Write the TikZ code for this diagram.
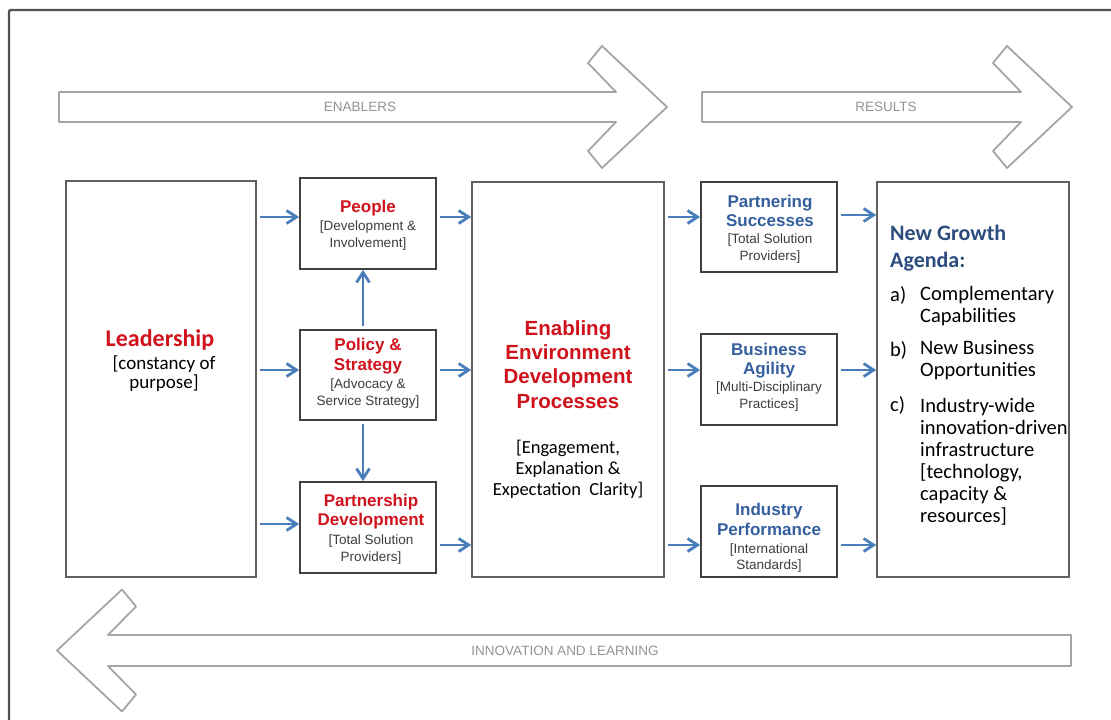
\documentclass[tikz,border=0pt]{standalone}
\usepackage{fontspec}
\setmainfont{Liberation Sans}
\newfontfamily\calib{Carlito}
\usetikzlibrary{arrows.meta}
\definecolor{myred}{RGB}{208,18,28}
\definecolor{myblue}{RGB}{52,94,158}
\definecolor{ngblue}{RGB}{44,76,126}
\definecolor{arrowblue}{RGB}{74,126,187}
\definecolor{subgray}{RGB}{60,60,60}
\definecolor{frameg}{RGB}{80,80,80}
\definecolor{blockg}{RGB}{165,165,165}
\tikzset{
  bigbox/.style={draw=gray!75!black, line width=1.6pt, inner sep=0pt},
  smallbox/.style={draw=black!75, line width=1.8pt, inner sep=0pt},
  arr/.style={draw=arrowblue, line width=2.8pt, shorten <=3pt, -{Straight Barb[length=10pt,width=13pt]}},
  blockarrow/.style={draw=blockg, line width=1.8pt, line join=round},
  blocklabel/.style={text=gray!85, font=\fontsize{13.5}{15}\selectfont, inner sep=0pt},
  redtitle/.style={text=myred, align=center, inner sep=0pt, font=\bfseries\fontsize{17}{19.5}\selectfont},
  bluetitle/.style={text=myblue, align=center, inner sep=0pt, font=\bfseries\fontsize{17}{19.5}\selectfont},
  subtext/.style={text=subgray, align=center, inner sep=0pt, font=\fontsize{13.5}{16.5}\selectfont},
  listtext/.style={text=black, align=left, inner sep=0pt, anchor=west, font=\calib\fontsize{20.5}{22}\selectfont},
}
\begin{document}
\begin{tikzpicture}[x=1pt,y=-1pt]
\useasboundingbox (0,0) rectangle (1111,720);
% outer frame
\draw[frameg, line width=2.4pt, rounded corners=2pt] (9,720) -- (9,10) -- (1111,10);

% block arrows
\draw[blockarrow] (59,92) -- (616,92) -- (588,63) -- (602,46) -- (667,107) -- (602,168) -- (588,151) -- (616,122) -- (59,122) -- cycle;
\node[blocklabel] (enablers) at (360,107) {ENABLERS};
\draw[blockarrow] (702,92) -- (1021,92) -- (993,63) -- (1007,46) -- (1072,107) -- (1007,168) -- (993,151) -- (1021,122) -- (702,122) -- cycle;
\node[blocklabel] (results) at (886,107) {RESULTS};
\draw[blockarrow] (1071,635) -- (108,635) -- (136,606.5) -- (122,589.5) -- (57,650.5) -- (122,711.5) -- (136,694.5) -- (108,666) -- (1071,666) -- cycle;
\node[blocklabel] (innov) at (565,651) {INNOVATION AND LEARNING};

% boxes
\node[bigbox, minimum width=190pt, minimum height=396pt] (lead) at (161,379) {};
\node[smallbox, minimum width=136pt, minimum height=91pt] (people) at (368,223.5) {};
\node[smallbox, minimum width=136pt, minimum height=90pt] (policy) at (368,375) {};
\node[smallbox, minimum width=136pt, minimum height=91pt] (partner) at (368,527.5) {};
\node[bigbox, minimum width=192pt, minimum height=395pt] (enab) at (568,379.5) {};
\node[smallbox, minimum width=136pt, minimum height=90pt] (psucc) at (769,227) {};
\node[smallbox, minimum width=136pt, minimum height=91pt] (agil) at (769,379.5) {};
\node[smallbox, minimum width=136pt, minimum height=91pt] (indus) at (769,531.5) {};
\node[bigbox, minimum width=192pt, minimum height=395pt] (ngrow) at (973,379.5) {};

% texts
\node[text=myred, inner sep=0pt, font=\calib\bfseries\fontsize{24}{26}\selectfont] (leadT) at (160,340) {Leadership};
\node[text=black, align=center, inner sep=0pt, font=\calib\fontsize{19}{19}\selectfont] (leadS) at (164,374) {[constancy of\\purpose]};

\node[redtitle] (peopleT) at (368,208) {People};
\node[subtext] (peopleS) at (368,235.5) {[Development \&\\Involvement]};

\node[redtitle] (policyT) at (368,356) {Policy \&\\Strategy};
\node[subtext] (policyS) at (368,393.5) {[Advocacy \&\\Service Strategy]};

\node[redtitle] (partnerT) at (371,511.5) {Partnership\\Development};
\node[subtext] (partnerS) at (371,549.5) {[Total Solution\\Providers]};

\node[text=myred, align=center, inner sep=0pt, font=\bfseries\fontsize{20.5}{24.3}\selectfont] (enabT) at (568,364.5) {Enabling\\Environment\\Development\\Processes};
\node[text=black, align=center, inner sep=0pt, font=\calib\fontsize{18.5}{21}\selectfont] (enabS) at (568,469) {[Engagement,\\Explanation \&\\Expectation\ \ Clarity]};

\node[bluetitle] (psuccT) at (770,211) {Partnering\\Successes};
\node[subtext] (psuccS) at (770,248.5) {[Total Solution\\Providers]};

\node[bluetitle] (agilT) at (769,360.5) {Business\\Agility};
\node[subtext] (agilS) at (769,396.5) {[Multi-Disciplinary\\Practices]};

\node[bluetitle] (indusT) at (769,519.5) {Industry\\Performance};
\node[subtext] (indusS) at (769,558) {[International\\Standards]};

\node[text=ngblue, align=left, inner sep=0pt, anchor=west, font=\calib\bfseries\fontsize{22}{27}\selectfont] (ngT) at (890,248.5) {New Growth\\Agenda:};
\node[listtext] (la) at (890,295) {a)};
\node[listtext] (ia) at (920,306) {Complementary\\Capabilities};
\node[listtext] (lb) at (890,350) {b)};
\node[listtext] (ib) at (920,360) {New Business\\Opportunities};
\node[listtext] (lc) at (890,405) {c)};
\node[listtext] (ic) at (920,461.5) {Industry-wide\\innovation-driven\\infrastructure\\{[}technology,\\capacity \&\\resources]};

% connector levels
\coordinate (yA) at (0,217);
\coordinate (yB) at (0,370);
\coordinate (yC) at (0,524);
\coordinate (yD) at (0,545);
\coordinate (yE) at (0,215);

\draw[arr] (lead.east |- yA) -- (people.west |- yA);
\draw[arr] (lead.east |- yB) -- (policy.west |- yB);
\draw[arr] (lead.east |- yC) -- (partner.west |- yC);
\draw[arr] (people.east |- yA) -- (enab.west |- yA);
\draw[arr] (policy.east |- yB) -- (enab.west |- yB);
\draw[arr] (partner.east |- yD) -- (enab.west |- yD);
\draw[arr] ([xshift=-5pt]policy.north) -- ([xshift=-5pt]people.south);
\draw[arr] ([xshift=-5pt]policy.south) -- ([xshift=-5pt]partner.north);
\draw[arr] (enab.east |- yA) -- (psucc.west |- yA);
\draw[arr] (enab.east |- yB) -- (agil.west |- yB);
\draw[arr] (enab.east |- yD) -- (indus.west |- yD);
\draw[arr] (psucc.east |- yE) -- (ngrow.west |- yE);
\draw[arr] (agil.east |- yB) -- (ngrow.west |- yB);
\draw[arr] (indus.east |- yD) -- (ngrow.west |- yD);
\end{tikzpicture}
\end{document}
